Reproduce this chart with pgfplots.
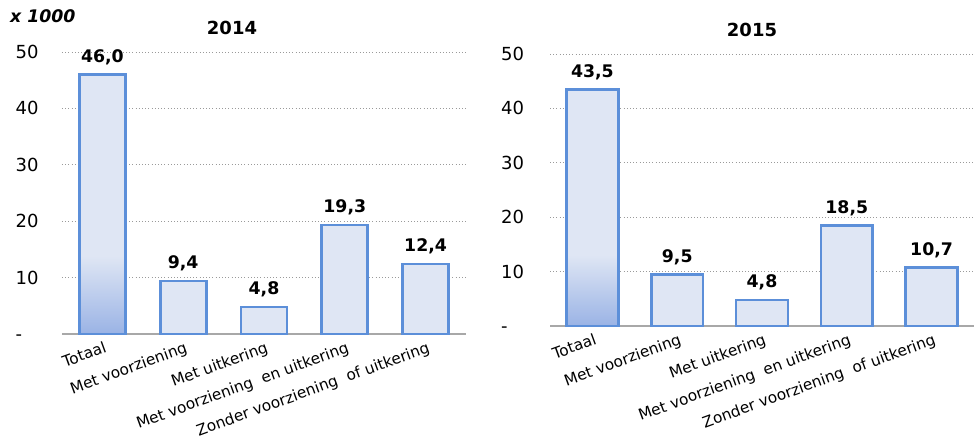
\documentclass[border=0pt]{standalone}
\usepackage{pgfplots}
\pgfplotsset{compat=1.18}
\usepackage{fontspec}
\setmainfont{DejaVu Sans}
\definecolor{barfill}{HTML}{DFE6F4}
\definecolor{bardraw}{HTML}{5C8FD9}
\definecolor{bardark}{HTML}{9AB3E5}
\definecolor{gridc}{HTML}{9A9A9A}
\definecolor{axisc}{HTML}{A8A8A8}
\pgfdeclareverticalshading{totshade}{100bp}{color(0bp)=(bardark); color(25bp)=(bardark); color(40bp)=(barfill); color(100bp)=(barfill)}
\pgfplotsset{
  panel/.style={
    scale only axis,
    xmin=-0.5, xmax=4.5,
    ymin=0, ymax=50,
    xtick={0,1,2,3,4},
    xticklabels={Totaal,Met voorziening,Met uitkering,Met voorziening\ \ en uitkering,Zonder voorziening\ \ of uitkering},
    ytick={0,10,20,30,40,50},
    yticklabels={\rlap{-}\phantom{50},10,20,30,40,50},
    major tick length=0pt,
    axis x line*=bottom,
    axis y line*=left,
    x axis line style={draw=axisc, line width=1.5pt},
    y axis line style={draw=none},
    ymajorgrids,
    grid style={dotted, gridc, line width=0.6pt},
    xticklabel style={rotate=20, anchor=north east, font=\fontsize{11.5}{13}\selectfont, inner sep=1pt, yshift=-4pt},
    yticklabel style={font=\fontsize{13.5}{15}\selectfont},
    nodes near coords,
    nodes near coords style={font=\bfseries\fontsize{13}{15}\selectfont, anchor=south, yshift=3pt,
      /pgf/number format/.cd, fixed, fixed zerofill, precision=1, use comma, assume math mode=true},
    clip=false,
  }
}
\begin{document}
\begin{tikzpicture}[x=1pt,y=1pt]
\path[use as bounding box] (0,0) rectangle (730.5,330.75);
\node[anchor=west, font=\bfseries\itshape\fontsize{13}{15}\selectfont] at (4,318.75) {x 1000};
\node[font=\bfseries\fontsize{13.5}{15}\selectfont] at (174,309.75) {2014};
\node[font=\bfseries\fontsize{13.5}{15}\selectfont] at (564,308.25) {2015};
\begin{axis}[panel, at={(46.5pt,80.25pt)}, anchor=south west, width=303pt, height=211.5pt,
  yticklabel style={xshift=-14pt}]
\addplot[ybar, bar width=0.57, bar shift=0pt, draw=bardraw, line width=2pt, shading=totshade] coordinates {(0,46.0)};
\addplot[ybar, bar width=0.57, bar shift=0pt, draw=bardraw, line width=2pt, fill=barfill] coordinates {(1,9.4) (2,4.8) (3,19.3) (4,12.4)};
\end{axis}
\begin{axis}[panel, at={(412.5pt,86.25pt)}, anchor=south west, width=318pt, height=204pt,
  yticklabel style={xshift=-16pt}]
\addplot[ybar, bar width=0.61, bar shift=0pt, draw=bardraw, line width=2pt, shading=totshade] coordinates {(0,43.5)};
\addplot[ybar, bar width=0.61, bar shift=0pt, draw=bardraw, line width=2pt, fill=barfill] coordinates {(1,9.5) (2,4.8) (3,18.5) (4,10.7)};
\end{axis}
\end{tikzpicture}
\end{document}
